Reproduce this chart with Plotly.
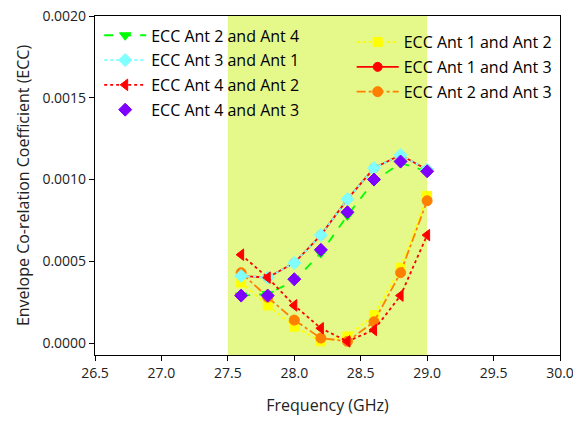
import plotly.graph_objects as go

freq = [27.6, 27.8, 28.0, 28.2, 28.4, 28.6, 28.8, 29.0]

ecc_24 = [0.00029, 0.00030, 0.00038, 0.00055, 0.00078, 0.00099, 0.00110, 0.00105]
ecc_31 = [0.00041, 0.00040, 0.00049, 0.00066, 0.00088, 0.00107, 0.00115, 0.00106]
ecc_42 = [0.00054, 0.00040, 0.00023, 0.00009, 0.00001, 0.00008, 0.00029, 0.00066]
ecc_43 = [0.00029, 0.00029, 0.00039, 0.00057, 0.00080, 0.00100, 0.00111, 0.00105]
ecc_12 = [0.00037, 0.00023, 0.00010, 0.00001, 0.00004, 0.00017, 0.00046, 0.00090]
ecc_13 = [0.00041, 0.00040, 0.00049, 0.00066, 0.00088, 0.00107, 0.00115, 0.00106]
ecc_23 = [0.00043, 0.00028, 0.00014, 0.00003, 0.00001, 0.00013, 0.00043, 0.00087]

band = [27.5, 29.0]
x_ticks = [26.5, 27.0, 27.5, 28.0, 28.5, 29.0, 29.5, 30.0]
y_ticks = [0.0, 0.0005, 0.0010, 0.0015, 0.0020]

FONT = "Open Sans"

fig = go.Figure()

# shaded band
fig.add_vrect(x0=band[0], x1=band[1], fillcolor="#E4F98A", line_width=0, layer="below")

def add(name, y, color, dash, symbol, msize, legend, rank, mline=None, lw=1.8, mode="lines+markers"):
    fig.add_trace(go.Scatter(
        x=freq, y=y, name=name, mode=mode,
        line=dict(color=color, dash=dash, width=lw),
        marker=dict(symbol=symbol, size=msize, color=color,
                    line=dict(color=mline or color, width=1)),
        legend=legend, legendrank=rank, legendgroup=name,
    ))

# draw order (bottom first)
add("ECC Ant 1 and Ant 3", ecc_13, "#FF0000", "solid", "circle", 9, "legend2", 2)
add("ECC Ant 1 and Ant 2", ecc_12, "#FFFF00", "dot", "square", 9, "legend2", 1, lw=2)
add("ECC Ant 2 and Ant 3", ecc_23, "#FF8000", "dashdot", "circle", 10, "legend2", 3)
add("ECC Ant 2 and Ant 4", ecc_24, "#00FF00", "dash", "triangle-down", 10, "legend", 1)
add("ECC Ant 3 and Ant 1", ecc_31, "#80FFFF", "dot", "diamond", 10, "legend", 2)
add("ECC Ant 4 and Ant 3", ecc_43, "#8000FF", "solid", "diamond", 10, "legend", 4, mode="markers")
add("ECC Ant 4 and Ant 2", ecc_42, "#FF0000", "dot", "triangle-left", 10, "legend", 3)

axis_common = dict(
    showline=True, linecolor="black", linewidth=1.2, mirror=True,
    ticks="outside", ticklen=5, tickwidth=1, tickcolor="black",
    showgrid=False, zeroline=False, automargin=False, ticklabeloverflow="allow",
    tickfont=dict(family=FONT, size=14, color="#222"),
)

fig.update_xaxes(range=[26.5, 30.0], tickvals=x_ticks, tickformat=".1f",
                 title=dict(text="Frequency (GHz)", font=dict(family=FONT, size=16, color="#222"), standoff=18),
                 **axis_common)
fig.update_yaxes(range=[-0.0000734, 0.0020], tickvals=y_ticks, tickformat=".4f",
                 title=dict(text="Envelope Co-relation Coefficient (ECC)", font=dict(family=FONT, size=16, color="#222"), standoff=8),
                 **axis_common)

legend_common = dict(
    bgcolor="rgba(0,0,0,0)", borderwidth=0,
    font=dict(family=FONT, size=16, color="black"),
    traceorder="grouped", tracegroupgap=1, itemwidth=42,
    xanchor="left", yanchor="top",
)

fig.update_layout(
    width=573, height=423,
    margin=dict(l=95, r=13, t=16, b=68),
    paper_bgcolor="white", plot_bgcolor="white",
    showlegend=True,
    legend=dict(x=0.009, y=0.993, **legend_common),
    legend2=dict(x=0.552, y=0.973, **legend_common),
)

fig.write_html("out.html")
